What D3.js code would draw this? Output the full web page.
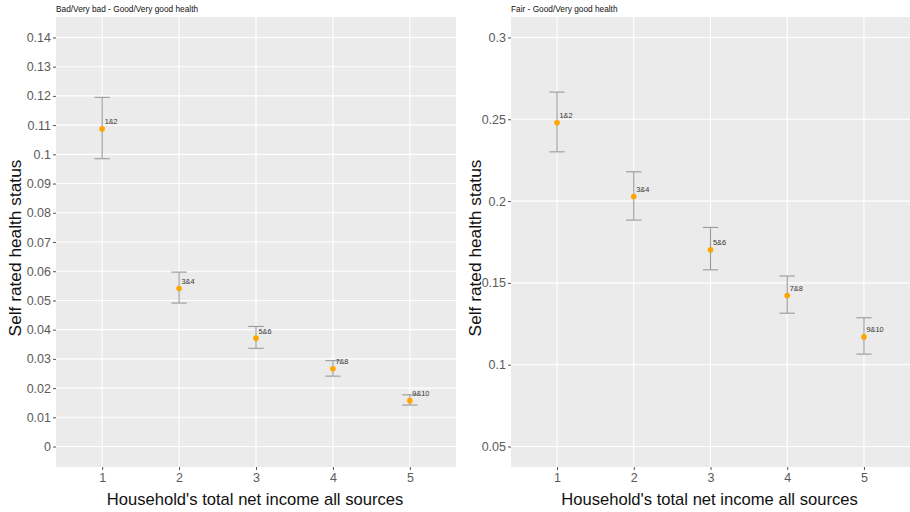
<!DOCTYPE html>
<html>
<head>
<meta charset="utf-8">
<script src="https://cdn.jsdelivr.net/npm/d3@7"></script>
<style>
  html, body { margin: 0; padding: 0; background: #fff; }
  svg { display: block; font-family: "Liberation Sans", Arial, sans-serif; }
</style>
</head>
<body>
<svg id="chart" width="910" height="512"></svg>
<script>
// Income groups (quintiles of household net income) and their decile labels
const groups = [1, 2, 3, 4, 5];
const groupLabels = ["1&2", "3&4", "5&6", "7&8", "9&10"];

// Panel A: Bad/Very bad vs Good/Very good health
const titleA = "Bad/Very bad - Good/Very good health";
const estA = [0.1087, 0.0541, 0.0371, 0.0266, 0.0157];
const lowA = [0.0985, 0.0491, 0.0336, 0.0241, 0.0142];
const highA = [0.1195, 0.0597, 0.0411, 0.0294, 0.0177];
const ticksA = [0, 0.01, 0.02, 0.03, 0.04, 0.05, 0.06, 0.07, 0.08, 0.09, 0.1, 0.11, 0.12, 0.13, 0.14];
const limitsA = [0, 0.14];

// Panel B: Fair vs Good/Very good health
const titleB = "Fair - Good/Very good health";
const estB = [0.2479, 0.2028, 0.1702, 0.1423, 0.1170];
const lowB = [0.2301, 0.1884, 0.1580, 0.1315, 0.1065];
const highB = [0.2666, 0.2179, 0.1839, 0.1542, 0.1287];
const ticksB = [0.05, 0.1, 0.15, 0.2, 0.25, 0.3];
const limitsB = [0.05, 0.3];

const yTitle = "Self rated health status";
const xTitle = "Household's total net income all sources";

const svg = d3.select("#chart");

function drawPanel(opts) {
  const { left, right, top, bottom, title, est, low, high, ticks, limits, yTitleX } = opts;
  const g = svg.append("g");

  // discrete-style x with 0.6 padding on each side
  const x = d3.scaleLinear().domain([0.4, 5.6]).range([left, right]);
  const span = limits[1] - limits[0];
  const y = d3.scaleLinear()
    .domain([limits[0] - 0.05 * span, limits[1] + 0.05 * span])
    .range([bottom, top]);

  // panel background
  g.append("rect")
    .attr("x", left).attr("y", top)
    .attr("width", right - left).attr("height", bottom - top)
    .attr("fill", "#EBEBEB");

  // grid lines
  g.selectAll(".hgrid").data(ticks).join("line")
    .attr("x1", left).attr("x2", right)
    .attr("y1", d => y(d)).attr("y2", d => y(d))
    .attr("stroke", "#fff").attr("stroke-width", 1.1);
  g.selectAll(".vgrid").data(groups).join("line")
    .attr("y1", top).attr("y2", bottom)
    .attr("x1", d => x(d)).attr("x2", d => x(d))
    .attr("stroke", "#fff").attr("stroke-width", 1.1);

  // axes
  const yAxis = d3.axisLeft(y).tickValues(ticks).tickSize(3).tickPadding(2)
    .tickFormat(d => d3.format("~g")(+d.toFixed(4)));
  const ya = g.append("g").attr("transform", `translate(${left},0)`).call(yAxis);
  ya.select(".domain").remove();
  ya.selectAll(".tick line").attr("stroke", "#555");
  ya.selectAll("text").attr("fill", "#5a5a5a").attr("font-size", 12.5);

  const xAxis = d3.axisBottom(x).tickValues(groups).tickSize(3).tickPadding(3)
    .tickFormat(d3.format("d"));
  const xa = g.append("g").attr("transform", `translate(0,${bottom})`).call(xAxis);
  xa.select(".domain").remove();
  xa.selectAll(".tick line").attr("stroke", "#555");
  xa.selectAll("text").attr("fill", "#5a5a5a").attr("font-size", 12.5);

  // error bars
  const eb = g.selectAll(".eb").data(groups).join("g");
  const cap = (x(1.1) - x(0.9)) / 2;
  eb.append("line")
    .attr("x1", d => x(d)).attr("x2", d => x(d))
    .attr("y1", (d, i) => y(low[i])).attr("y2", (d, i) => y(high[i]))
    .attr("stroke", "#9a9a9a").attr("stroke-width", 1.1);
  eb.append("line")
    .attr("x1", d => x(d) - cap).attr("x2", d => x(d) + cap)
    .attr("y1", (d, i) => y(low[i])).attr("y2", (d, i) => y(low[i]))
    .attr("stroke", "#9a9a9a").attr("stroke-width", 1.1);
  eb.append("line")
    .attr("x1", d => x(d) - cap).attr("x2", d => x(d) + cap)
    .attr("y1", (d, i) => y(high[i])).attr("y2", (d, i) => y(high[i]))
    .attr("stroke", "#9a9a9a").attr("stroke-width", 1.1);

  // point estimates
  g.selectAll(".pt").data(groups).join("circle")
    .attr("cx", d => x(d)).attr("cy", (d, i) => y(est[i]))
    .attr("r", 2.8).attr("fill", "#FFA500");

  // decile labels
  g.selectAll(".lbl").data(groups).join("text")
    .attr("x", d => x(d) + 2.5).attr("y", (d, i) => y(est[i]) - 4.5)
    .attr("font-size", 7.3).attr("fill", "#333")
    .text((d, i) => groupLabels[i]);

  // panel title
  g.append("text")
    .attr("x", left).attr("y", 12)
    .attr("font-size", 8.3).attr("fill", "#111")
    .text(title);

  // axis titles
  g.append("text")
    .attr("transform", `translate(${yTitleX},248) rotate(-90)`)
    .attr("text-anchor", "middle").attr("dominant-baseline", "central")
    .attr("font-size", 17.3).attr("fill", "#111")
    .text(yTitle);
  g.append("text")
    .attr("x", (left + right) / 2 - 1).attr("y", 505)
    .attr("text-anchor", "middle")
    .attr("font-size", 16.6).attr("fill", "#111")
    .text(xTitle);
}

drawPanel({ left: 56, right: 456, top: 17, bottom: 467, title: titleA,
  est: estA, low: lowA, high: highA, ticks: ticksA, limits: limitsA, yTitleX: 15 });
drawPanel({ left: 511, right: 910, top: 17, bottom: 467, title: titleB,
  est: estB, low: lowB, high: highB, ticks: ticksB, limits: limitsB, yTitleX: 475 });
</script>
</body>
</html>
